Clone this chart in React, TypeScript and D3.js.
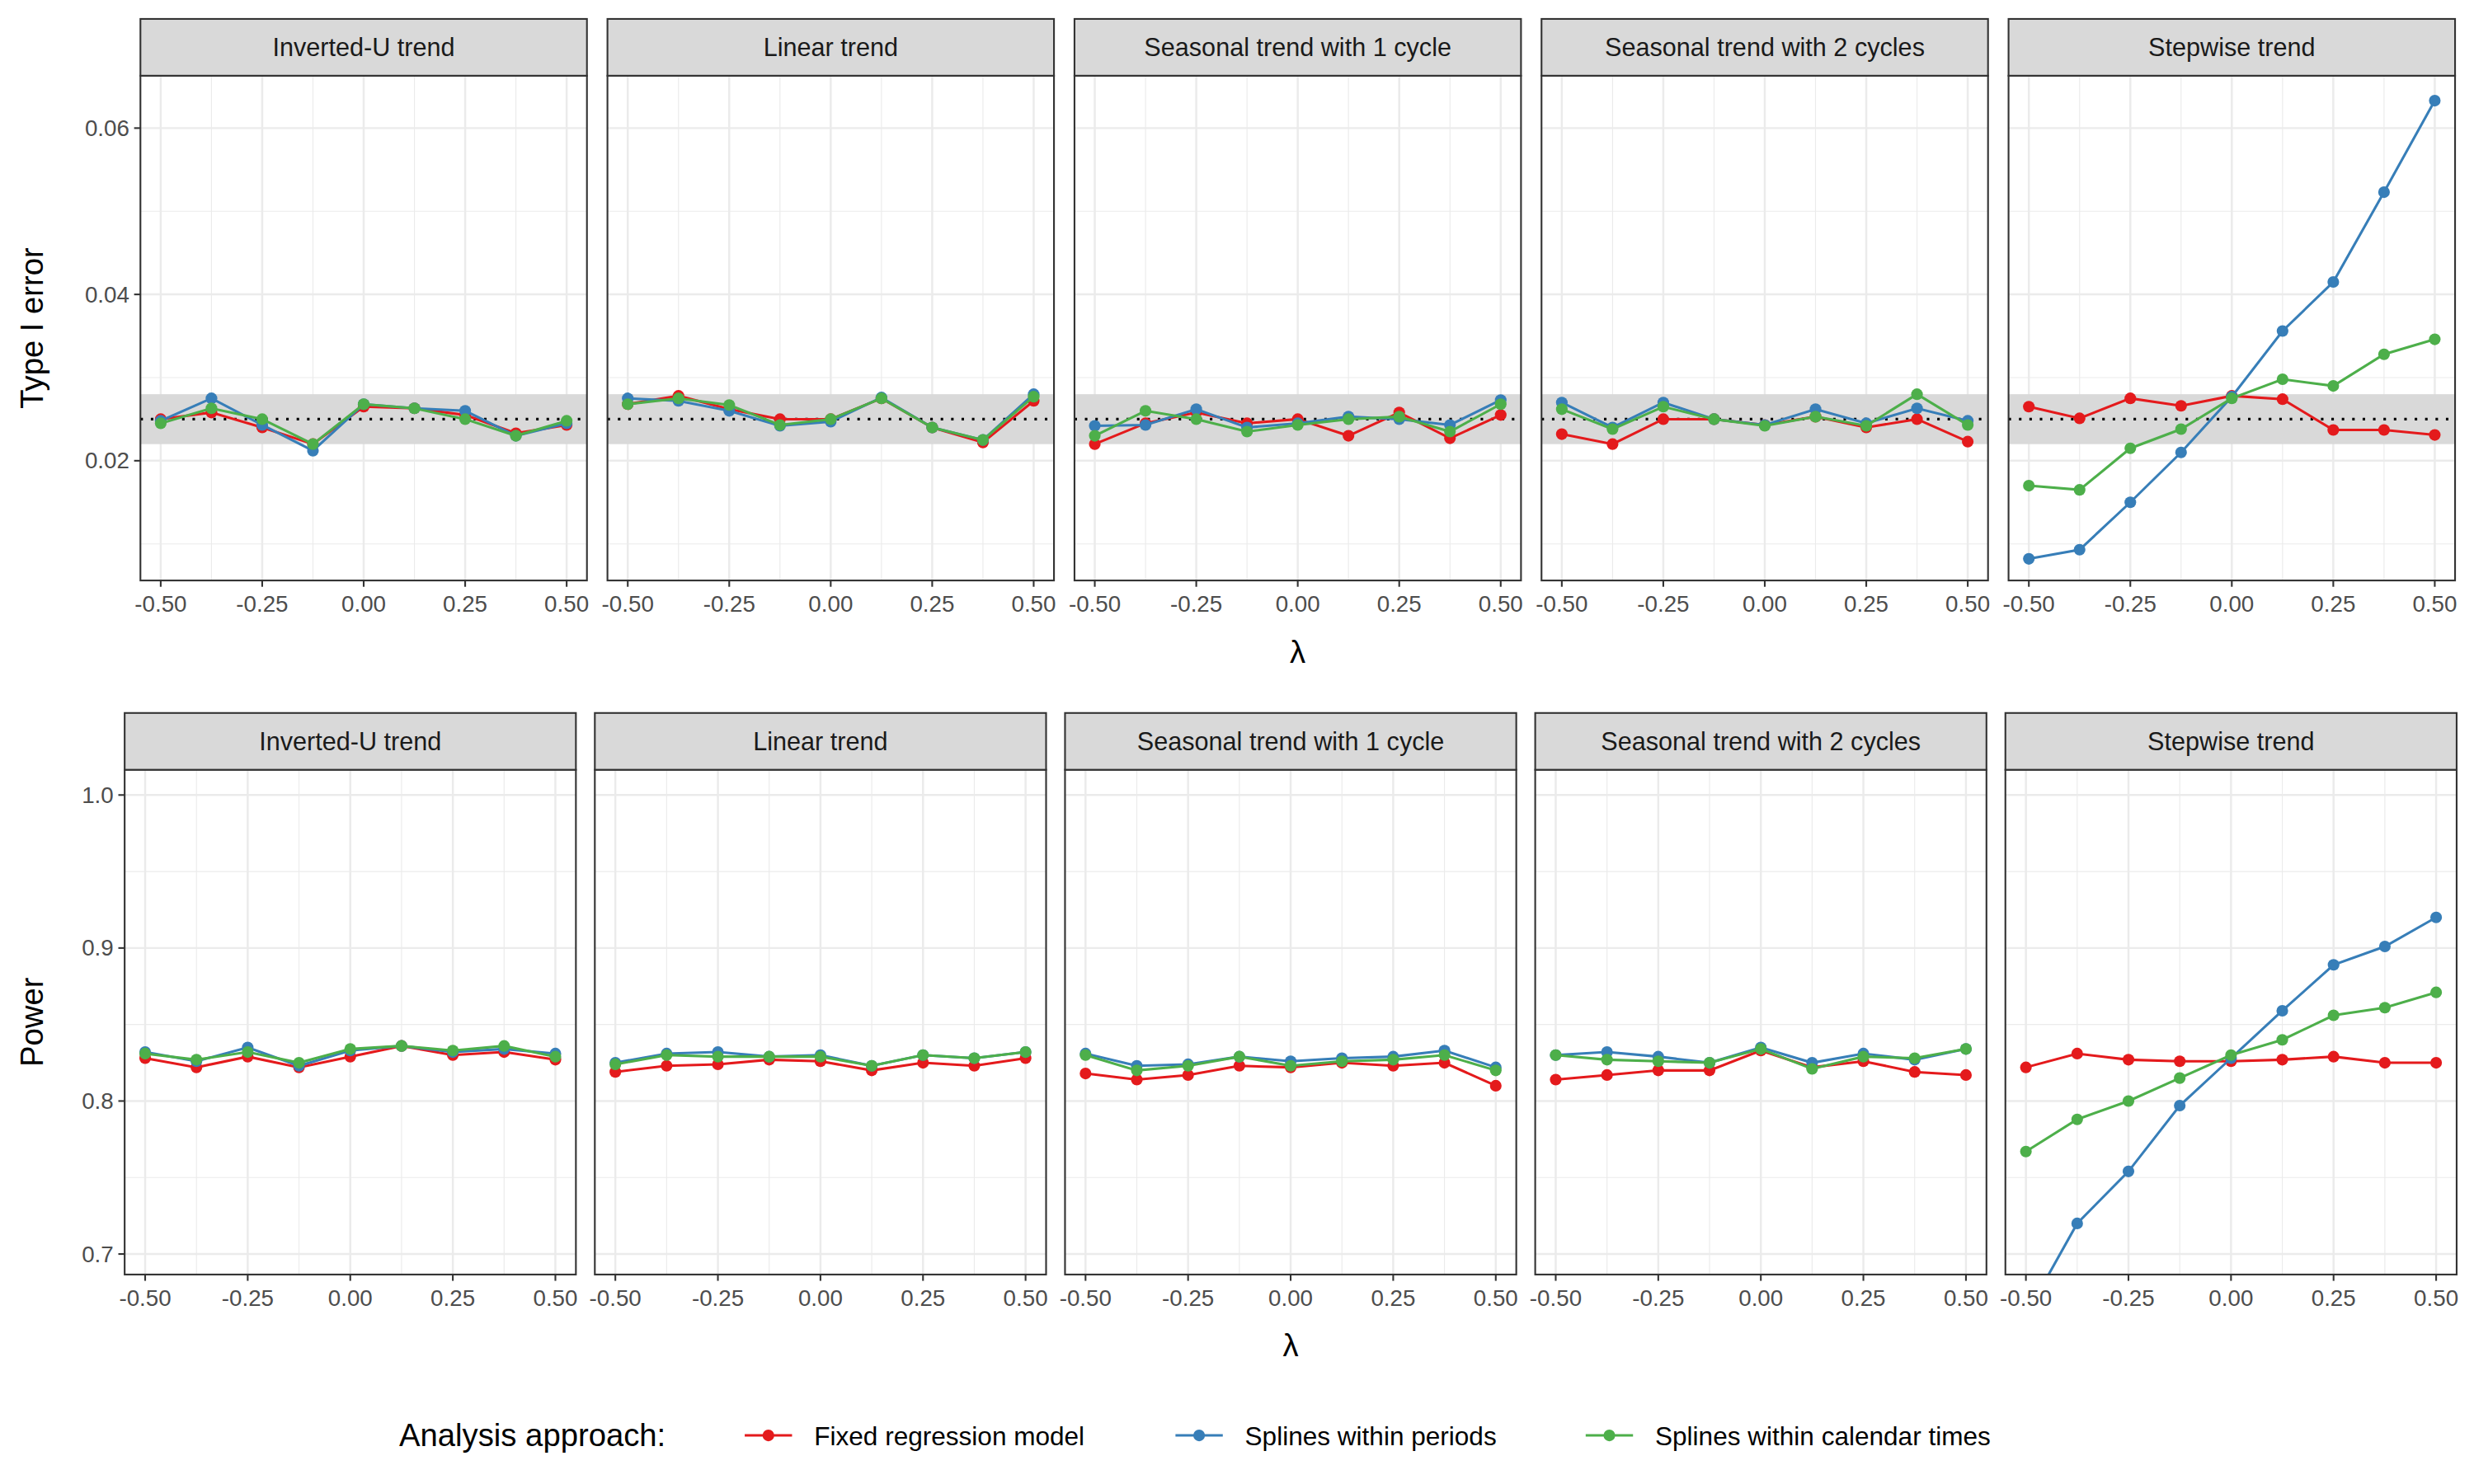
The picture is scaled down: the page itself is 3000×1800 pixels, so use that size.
import * as d3 from "d3";
import React from "react";

const lambdas = [-0.5, -0.375, -0.25, -0.125, 0, 0.125, 0.25, 0.375, 0.5];
const trends = [
  "Inverted-U trend",
  "Linear trend",
  "Seasonal trend with 1 cycle",
  "Seasonal trend with 2 cycles",
  "Stepwise trend",
];
const approaches = ["Fixed regression model", "Splines within periods", "Splines within calendar times"];
const colors = ["#e41a1c", "#377eb8", "#4daf4a"];

// type I error [trend][approach][lambda]
const typeOne = [
  [
    [0.025, 0.0258, 0.024, 0.022, 0.0265, 0.0263, 0.0255, 0.0233, 0.0243],
    [0.0248, 0.0275, 0.0243, 0.0212, 0.0268, 0.0263, 0.026, 0.023, 0.0245],
    [0.0245, 0.0263, 0.025, 0.022, 0.0268, 0.0263, 0.025, 0.023, 0.0248],
  ],
  [
    [0.0268, 0.0278, 0.0262, 0.025, 0.025, 0.0275, 0.024, 0.0222, 0.0272],
    [0.0275, 0.0272, 0.026, 0.0242, 0.0247, 0.0276, 0.024, 0.0225, 0.028],
    [0.0268, 0.0275, 0.0267, 0.0243, 0.025, 0.0275, 0.024, 0.0225, 0.0277],
  ],
  [
    [0.022, 0.0245, 0.0258, 0.0245, 0.025, 0.023, 0.0258, 0.0227, 0.0255],
    [0.0242, 0.0243, 0.0262, 0.024, 0.0245, 0.0253, 0.025, 0.0243, 0.0273],
    [0.023, 0.026, 0.025, 0.0235, 0.0243, 0.025, 0.0253, 0.0235, 0.0268],
  ],
  [
    [0.0232, 0.022, 0.025, 0.025, 0.0243, 0.0253, 0.024, 0.025, 0.0223],
    [0.027, 0.024, 0.027, 0.025, 0.0243, 0.0262, 0.0245, 0.0263, 0.0248],
    [0.0262, 0.0238, 0.0265, 0.025, 0.0242, 0.0253, 0.0242, 0.028, 0.0243],
  ],
  [
    [0.0265, 0.0251, 0.0275, 0.0266, 0.0278, 0.0274, 0.0237, 0.0237, 0.0231],
    [0.0082, 0.0093, 0.015, 0.021, 0.0277, 0.0356, 0.0415, 0.0523, 0.0633],
    [0.017, 0.0165, 0.0215, 0.0238, 0.0275, 0.0298, 0.029, 0.0328, 0.0346],
  ],
];

const power = [
  [
    [0.828, 0.822, 0.829, 0.822, 0.829, 0.836, 0.83, 0.832, 0.827],
    [0.832, 0.826, 0.835, 0.823, 0.833, 0.836, 0.832, 0.834, 0.831],
    [0.831, 0.827, 0.832, 0.825, 0.834, 0.836, 0.833, 0.836, 0.829],
  ],
  [
    [0.819, 0.823, 0.824, 0.827, 0.826, 0.82, 0.825, 0.823, 0.828],
    [0.825, 0.831, 0.832, 0.829, 0.83, 0.823, 0.83, 0.828, 0.832],
    [0.824, 0.83, 0.829, 0.829, 0.829, 0.823, 0.83, 0.828, 0.832],
  ],
  [
    [0.818, 0.814, 0.817, 0.823, 0.822, 0.825, 0.823, 0.825, 0.81],
    [0.831, 0.823, 0.824, 0.829, 0.826, 0.828, 0.829, 0.833, 0.822],
    [0.83, 0.82, 0.823, 0.829, 0.823, 0.826, 0.827, 0.83, 0.82],
  ],
  [
    [0.814, 0.817, 0.82, 0.82, 0.833, 0.822, 0.826, 0.819, 0.817],
    [0.83, 0.832, 0.829, 0.825, 0.835, 0.825, 0.831, 0.827, 0.834],
    [0.83, 0.827, 0.826, 0.825, 0.834, 0.821, 0.829, 0.828, 0.834],
  ],
  [
    [0.822, 0.831, 0.827, 0.826, 0.826, 0.827, 0.829, 0.825, 0.825],
    [0.66, 0.72, 0.754, 0.797, 0.828, 0.859, 0.889, 0.901, 0.92],
    [0.767, 0.788, 0.8, 0.815, 0.83, 0.84, 0.856, 0.861, 0.871],
  ],
];

const xTicks = [-0.5, -0.25, 0, 0.25, 0.5];
const xMinor = [-0.375, -0.125, 0.125, 0.375];
const typeOneTicks = [0.02, 0.04, 0.06];
const typeOneMinor = [0.01, 0.03, 0.05];
const powerTicks = [0.7, 0.8, 0.9, 1.0];
const powerMinor = [0.75, 0.85, 0.95];

const font = "Liberation Sans, Arial, sans-serif";

interface RowProps {
  id: string;
  data: number[][][];
  left: number;
  step: number;
  width: number;
  top: number;
  bottom: number;
  yDomain: [number, number];
  yTicks: number[];
  yMinor: number[];
  yFmt: (v: number) => string;
  title: string;
  band?: boolean;
}

const Row: React.FC<RowProps> = (p) => {
  const stripH = 36;
  const plotTop = p.top + stripH;
  const y = d3.scaleLinear().domain(p.yDomain).range([p.bottom, plotTop]);
  return (
    <g>
      <text
        transform={`translate(27,${(plotTop + p.bottom) / 2}) rotate(-90)`}
        textAnchor="middle"
        fontSize={20}
        fill="#000"
      >
        {p.title}
      </text>
      {trends.map((t, ti) => {
        const x0 = p.left + ti * p.step;
        const x = d3.scaleLinear().domain([-0.55, 0.55]).range([x0, x0 + p.width]);
        const line = d3
          .line<number>()
          .x((_, i) => x(lambdas[i]))
          .y((v) => y(v));
        const clipId = `${p.id}-${ti}`;
        return (
          <g key={t}>
            <clipPath id={clipId}>
              <rect x={x0} y={plotTop} width={p.width} height={p.bottom - plotTop} />
            </clipPath>
            <rect x={x0} y={plotTop} width={p.width} height={p.bottom - plotTop} fill="#fff" />
            {p.yMinor.map((v) => (
              <line key={"ym" + v} x1={x0} x2={x0 + p.width} y1={y(v)} y2={y(v)} stroke="#ebebeb" strokeWidth={0.6} />
            ))}
            {xMinor.map((v) => (
              <line key={"xm" + v} x1={x(v)} x2={x(v)} y1={plotTop} y2={p.bottom} stroke="#ebebeb" strokeWidth={0.6} />
            ))}
            {p.yTicks.map((v) => (
              <line key={"yt" + v} x1={x0} x2={x0 + p.width} y1={y(v)} y2={y(v)} stroke="#ebebeb" strokeWidth={1.3} />
            ))}
            {xTicks.map((v) => (
              <line key={"xt" + v} x1={x(v)} x2={x(v)} y1={plotTop} y2={p.bottom} stroke="#ebebeb" strokeWidth={1.3} />
            ))}
            {p.band && (
              <g>
                <rect x={x0} y={y(0.028)} width={p.width} height={y(0.022) - y(0.028)} fill="#d9d9d9" />
                <line x1={x0} x2={x0 + p.width} y1={y(0.025)} y2={y(0.025)} stroke="#000" strokeWidth={1.6} strokeDasharray="1.6 5" />
              </g>
            )}
            <g clipPath={`url(#${clipId})`}>
              {p.data[ti].map((series, si) => (
                <g key={si}>
                  <path d={line(series) || ""} fill="none" stroke={colors[si]} strokeWidth={1.6} />
                  {series.map((v, i) => (
                    <circle key={i} cx={x(lambdas[i])} cy={y(v)} r={3.7} fill={colors[si]} />
                  ))}
                </g>
              ))}
            </g>
            <rect x={x0} y={plotTop} width={p.width} height={p.bottom - plotTop} fill="none" stroke="#333" strokeWidth={1.1} />
            <rect x={x0} y={p.top} width={p.width} height={stripH} fill="#d9d9d9" stroke="#333" strokeWidth={1.1} />
            <text x={x0 + p.width / 2} y={p.top + stripH / 2 + 5.5} textAnchor="middle" fontSize={16} fill="#1a1a1a">
              {t}
            </text>
            {xTicks.map((v) => (
              <g key={"xl" + v}>
                <line x1={x(v)} x2={x(v)} y1={p.bottom} y2={p.bottom + 4} stroke="#333" strokeWidth={1.1} />
                <text x={x(v)} y={p.bottom + 20} textAnchor="middle" fontSize={14.5} fill="#4d4d4d">
                  {v.toFixed(2)}
                </text>
              </g>
            ))}
            {ti === 0 &&
              p.yTicks.map((v) => (
                <g key={"yl" + v}>
                  <line x1={x0 - 4} x2={x0} y1={y(v)} y2={y(v)} stroke="#333" strokeWidth={1.1} />
                  <text x={x0 - 7} y={y(v) + 5} textAnchor="end" fontSize={14.5} fill="#4d4d4d">
                    {p.yFmt(v)}
                  </text>
                </g>
              ))}
          </g>
        );
      })}
      <text x={(p.left + p.left + 4 * p.step + p.width) / 2} y={p.bottom + 52} textAnchor="middle" fontSize={20}>
        λ
      </text>
    </g>
  );
};

const App: React.FC = () => {
  const legendX = [472, 745, 1005];
  return (
    <svg
      width={3000}
      height={1800}
      viewBox="0 0 1568 940.8"
      style={{ position: "absolute", left: 0, top: 0, background: "#fff", fontFamily: font }}
    >
      <rect width={1568} height={941} fill="#fff" />
      <Row
        id="t1"
        data={typeOne}
        left={89}
        step={296}
        width={283}
        top={12}
        bottom={368}
        yDomain={[0.0056, 0.0663]}
        yTicks={typeOneTicks}
        yMinor={typeOneMinor}
        yFmt={(v) => v.toFixed(2)}
        title="Type I error"
        band
      />
      <Row
        id="pw"
        data={power}
        left={79}
        step={298}
        width={286}
        top={452}
        bottom={808}
        yDomain={[0.6866, 1.0165]}
        yTicks={powerTicks}
        yMinor={powerMinor}
        yFmt={(v) => v.toFixed(1)}
        title="Power"
      />
      <text x={253} y={917} fontSize={20}>
        Analysis approach:
      </text>
      {approaches.map((a, i) => (
        <g key={a}>
          <line x1={legendX[i]} x2={legendX[i] + 30} y1={910} y2={910} stroke={colors[i]} strokeWidth={1.6} />
          <circle cx={legendX[i] + 15} cy={910} r={3.7} fill={colors[i]} />
          <text x={legendX[i] + 44} y={916} fontSize={16.5} fill="#000">
            {a}
          </text>
        </g>
      ))}
    </svg>
  );
};

export default App;
